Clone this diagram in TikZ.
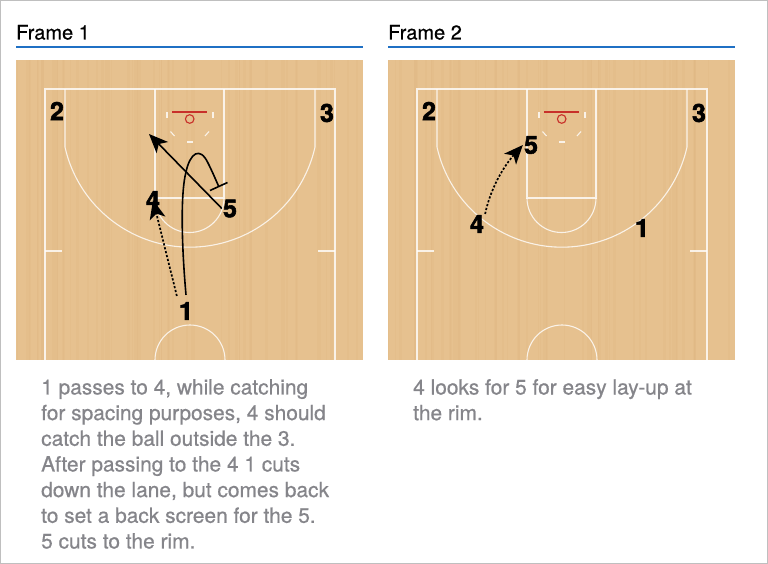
\documentclass[tikz,border=0pt]{standalone}
\usepackage{fontspec}
\setmainfont{TeX Gyre Heros}
\newfontfamily\notesfont[FakeBold=0.6]{TeX Gyre Heros}
\newfontfamily\playerfont[FakeBold=2.2]{TeX Gyre Heros Bold}
\usetikzlibrary{arrows.meta}
\definecolor{wood}{HTML}{E6C18F}
\definecolor{woodline}{HTML}{D9AF78}
\definecolor{ruleblue}{HTML}{1F70C4}
\definecolor{rimred}{HTML}{C8302A}
\definecolor{bodygrey}{HTML}{85858A}
\tikzset{
  player/.style={font=\fontsize{25}{25}\playerfont,text=black,inner sep=1pt},
  title/.style={font=\fontsize{20}{20}\notesfont,anchor=base west,inner sep=0pt},
  body/.style={font=\fontsize{20.9}{25.67}\notesfont,text=bodygrey,anchor=north west,align=left,inner sep=0pt},
  court/.style={draw=white,draw opacity=0.8,line width=1.1pt},
  move/.style={line width=1.6pt,-{Stealth[length=19pt,width=16pt,inset=5pt]}},
  pass/.style={line width=1.7pt,dash pattern=on 2.2pt off 1.8pt,-{Stealth[length=19pt,width=16pt,inset=5pt]}}
}
\begin{document}
\begin{tikzpicture}[x=1pt,y=-1pt]
\useasboundingbox (0,0) rectangle (768,564);
\fill[white] (0,0) rectangle (768,564);
\draw[black!25,line width=2pt] (0,0) rectangle (768,564);

% the two courts
\pgfmathsetseed{7}
\foreach \fx/\lab in {0/1,372/2}
{
\begin{scope}[xshift=\fx pt]
\node[title] at (16,39.5) {Frame \lab};
\draw[ruleblue,line width=2pt] (16,47) -- (363,47);
\fill[wood] (16,60) rectangle (363,360);
\foreach \i in {1,...,60}
{
\pgfmathsetmacro{\sx}{16+rnd*345}
\pgfmathsetmacro{\sw}{0.5+rnd*2.5}
\fill[woodline,opacity=0.15] (\sx,60) rectangle (\sx+\sw,360);
}
\draw[court] (45,360) -- (45,89) -- (335,89) -- (335,360);
\draw[court] (155,89) -- (155,198) -- (224,198) -- (224,89);
\draw[court] (155,198) arc[start angle=180,end angle=0,radius=34.5];
\draw[court] (65,89) -- (65,147) arc[start angle=167.4,end angle=12.6,radius=128.1] -- (315,89);
\draw[court] (155,360) arc[start angle=180,end angle=360,radius=35];
\draw[court] (45,251) -- (62,251);
\draw[court] (318,251) -- (335,251);
\draw[rimred,line width=1.3pt] (172,112) -- (207,112);
\draw[rimred,line width=1.1pt] (189.7,119) circle[radius=4.3];
\draw[court] (167,112) -- (167,118);
\draw[court] (213,112) -- (213,118);
\draw[court] (170.5,131.5) -- (174.5,136);
\draw[court] (209,131.5) -- (205,136);
\draw[court] (187,142) -- (192.5,142);
\end{scope}
}

% frame 1
\node[player] (twoA) at (57,111) {2};
\node[player] (threeA) at (327,113) {3};
\node[player] (fourA) at (153,200) {4};
\node[player] (fiveA) at (230,208.5) {5};
\node[player] (oneA) at (186,311) {1};
\coordinate (cutA) at (149,134);
\coordinate (screenA) at (218.5,186);
\coordinate (barlA) at (210,190.5);
\coordinate (barrA) at (227.5,182.5);
\draw[move] (fiveA.west) -- (cutA);
\draw[pass] (oneA.north west)+(-1,-5) -- (fourA.center);
\draw[line width=1.6pt] (oneA.north)+(0,-6) .. controls (182,250) and (180,195) .. (186,172)
  .. controls (190,153) and (200,146) .. (208,163) .. controls (212,171) and (215,178) .. (screenA);
\draw[line width=1.6pt] (barlA) -- (barrA);
\node[body] (notesA) at (41,379) {1 passes to 4, while catching\\for spacing purposes, 4 should\\catch the ball outside the 3.\\After passing to the 4 1 cuts\\down the lane, but comes back\\to set a back screen for the 5.\\5 cuts to the rim.};

% frame 2
\node[player] (twoB) at (429,111) {2};
\node[player] (threeB) at (699,113) {3};
\node[player] (fourB) at (477,224) {4};
\node[player] (fiveB) at (531,145) {5};
\node[player] (oneB) at (642,228) {1};
\draw[pass] (fourB.north east) .. controls (490,190) and (503,167) .. (fiveB.west);
\node[body] (notesB) at (413,379) {4 looks for 5 for easy lay-up at\\the rim.};
\end{tikzpicture}
\end{document}
